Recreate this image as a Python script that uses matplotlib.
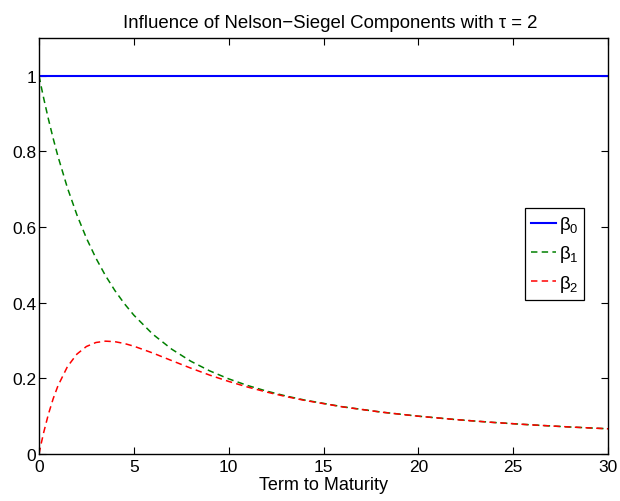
import matplotlib
matplotlib.use("Agg")
import matplotlib.pyplot as plt

# Term to maturity (x) and component loadings
term = [0, 0.1, 0.25, 0.5, 0.75, 1, 1.5, 2, 2.5, 3, 3.5, 4, 4.5, 5, 6, 7, 8, 9,
        10, 11, 12, 13, 14, 16, 18, 20, 22, 24, 26, 28, 30]
beta0 = [1.0] * len(term)
beta1 = [1.0, 0.9754, 0.9400, 0.8848, 0.8339, 0.7869, 0.7035, 0.6321, 0.5708,
         0.5179, 0.4721, 0.4323, 0.3976, 0.3672, 0.3167, 0.2771, 0.2454, 0.2198,
         0.1987, 0.1811, 0.1663, 0.1536, 0.1427, 0.1250, 0.1111, 0.1000, 0.0909,
         0.0833, 0.0769, 0.0714, 0.0667]
beta2 = [0.0, 0.0242, 0.0575, 0.1060, 0.1466, 0.1804, 0.2311, 0.2642, 0.2843,
         0.2948, 0.2984, 0.2970, 0.2922, 0.2851, 0.2670, 0.2469, 0.2271, 0.2086,
         0.1919, 0.1770, 0.1638, 0.1521, 0.1418, 0.1246, 0.1110, 0.0999, 0.0909,
         0.0833, 0.0769, 0.0714, 0.0667]

xticks = [0, 5, 10, 15, 20, 25, 30]
yticks = [0, 0.2, 0.4, 0.6, 0.8, 1]
ytick_labels = ["0", "0.2", "0.4", "0.6", "0.8", "1"]

plt.rcParams['font.family'] = ['Liberation Sans', 'DejaVu Sans']
plt.rcParams['mathtext.default'] = 'regular'

fig = plt.figure(figsize=(6.2, 5.02), dpi=100)
ax = fig.add_axes([39/620, 1 - 455/502, (608-39)/620, (455-39)/502])

dash = (0, (4.2, 2.8))
ax.plot(term, beta0, color=(0, 0, 1), lw=1.5, ls='-', label='β$_0$')
ax.plot(term, beta1, color=(0, 0.5, 0), lw=1.1, ls=dash, label='β$_1$')
ax.plot(term, beta2, color=(1, 0, 0), lw=1.1, ls=dash, label='β$_2$')

ax.set_xlim(0, 30)
ax.set_ylim(0, 1.1)
ax.set_xticks(xticks)
ax.set_xticklabels([str(v) for v in xticks])
ax.set_yticks(yticks)
ax.set_yticklabels(ytick_labels)
ax.tick_params(direction='in', length=5, width=0.8, top=True, right=True,
               labelsize=12.5, pad=2, colors='black')
ax.tick_params(axis='x', pad=3.5)
for sp in ax.spines.values():
    sp.set_linewidth(1.0)

ax.set_xlabel('Term to Maturity', fontsize=13, labelpad=1.5)
ax.set_title('Influence of Nelson\u2212Siegel Components with \u03c4 = 2', fontsize=13.4, pad=8, x=0.512)

leg = ax.legend(loc='center right', bbox_to_anchor=((584-39)/569, (455-255)/416),
                fontsize=13.5, frameon=True, fancybox=False, shadow=False,
                edgecolor='black', framealpha=1, handlelength=1.35,
                borderpad=0.3, labelspacing=0.45, handletextpad=0.15, borderaxespad=0)
leg.get_frame().set_linewidth(0.9)

fig.savefig('out.png', dpi=100)
